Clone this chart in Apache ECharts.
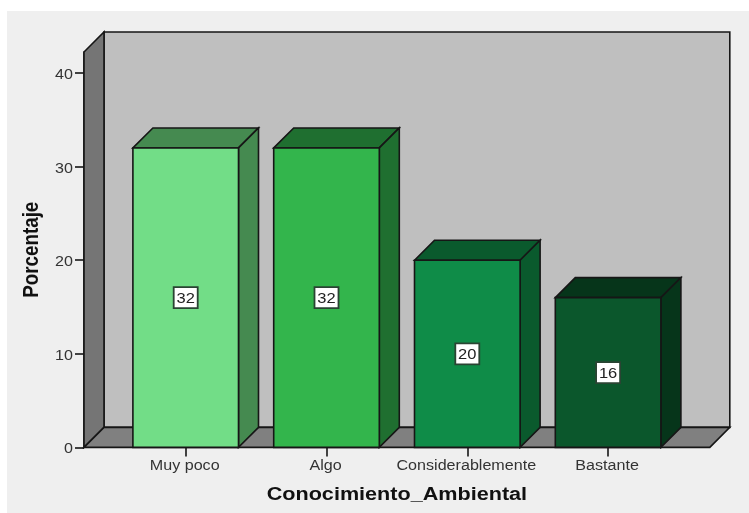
<!DOCTYPE html>
<html>
<head>
<meta charset="utf-8">
<style>html,body{margin:0;padding:0;background:#fff}#chart{width:749px;height:513px}</style>
<script src="https://cdn.jsdelivr.net/npm/echarts@6/dist/echarts.min.js"></script>
</head>
<body>
<div id="chart"></div>
<script>
const categories = ['Muy poco', 'Algo', 'Considerablemente', 'Bastante'];
const percentages = [32, 32, 20, 16];
const yTicks = [0, 10, 20, 30, 40];
const xTitle = 'Conocimiento_Ambiental';
const yTitle = 'Porcentaje';
const frontColors = ['#72DD87', '#33B54C', '#0F8C48', '#0B572C'];
const sideColors = ['#458A50', '#1F6F30', '#0A5A2D', '#06351A'];

const DEPTH = 20;          // oblique offset of the 3D box, px
const FRAME_PAD = 31.3;    // floor overhang beyond the first and last category bands, px
const INK = '#161616';
const WIDE = 1.15;         // horizontal widening of the axis text
const edge = { stroke: INK, lineWidth: 1.6, lineJoin: 'miter' };

function poly(points, fill) {
  return { type: 'polygon', shape: { points }, style: { fill, ...edge } };
}

function label(text, x, y, font, fill, align, extra) {
  return {
    type: 'text', x, y, scaleX: WIDE, ...extra,
    style: { text, x: 0, y: 0, align, verticalAlign: 'middle', font, fill }
  };
}

// Back wall, side wall, floor and the axis texts around the 3D frame
function renderFrame(params, api) {
  const c = params.coordSys;
  const l = c.x - FRAME_PAD, r = c.x + c.width + FRAME_PAD, t = c.y, b = c.y + c.height;
  const children = [
    poly([[l + DEPTH, t - DEPTH], [r + DEPTH, t - DEPTH], [r + DEPTH, b - DEPTH], [l + DEPTH, b - DEPTH]], '#BFBFBF'),
    poly([[l, t], [l + DEPTH, t - DEPTH], [l + DEPTH, b - DEPTH], [l, b]], '#757575'),
    poly([[l, b], [l + DEPTH, b - DEPTH], [r + DEPTH, b - DEPTH], [r, b]], '#808080')
  ];
  yTicks.forEach(v => {
    const y = api.coord([0, v])[1];
    children.push(label(String(v), l - 11, y + 2, '14px "Liberation Sans"', '#333', 'right'));
  });
  categories.forEach((name, i) => {
    const x = api.coord([i, 0])[0];
    children.push(label(name, x - 1, b + 19, '14px "Liberation Sans"', '#333', 'center'));
  });
  children.push(label(xTitle, c.x + c.width / 2, b + 48, 'bold 18px "Liberation Sans"', '#111', 'center', { scaleX: 1.2 }));
  children.push(label(yTitle, l - 52.5, t + c.height / 2, 'bold 18.8px "Liberation Sans"', '#111', 'center',
    { scaleX: 1, scaleY: 1.2, rotation: Math.PI / 2 }));
  return { type: 'group', children };
}

// One extruded bar: top face, right-hand face, front face and the value box
function renderBar(params, api) {
  const i = api.value(0);
  const v = api.value(1);
  const [cx, top] = api.coord([i, v]);
  const [, base] = api.coord([i, 0]);
  const [, mid] = api.coord([i, v / 2]);
  const w = api.size([1, 0])[0] * 0.75;
  const l = cx - w / 2, r = cx + w / 2;
  return {
    type: 'group',
    children: [
      poly([[l, top], [l + DEPTH, top - DEPTH], [r + DEPTH, top - DEPTH], [r, top]], sideColors[i]),
      poly([[r, top], [r + DEPTH, top - DEPTH], [r + DEPTH, base - DEPTH], [r, base]], sideColors[i]),
      poly([[l, top], [r, top], [r, base], [l, base]], frontColors[i]),
      {
        type: 'rect',
        shape: { x: cx - 12, y: mid - 10.5, width: 24, height: 21 },
        style: { fill: '#fff', stroke: '#2a4433', lineWidth: 1.8 }
      },
      label(String(v), cx, mid + 1, '15px "Liberation Sans"', '#222', 'center', { scaleX: 1.1 })
    ]
  };
}

const chart = echarts.init(document.getElementById('chart'), null, { renderer: 'canvas' });
chart.setOption({
  animation: false,
  backgroundColor: '#fff',
  graphic: [{
    type: 'rect', z: -10, silent: true,
    shape: { x: 7, y: 11, width: 742, height: 502 },
    style: { fill: '#EFEFEF' }
  }],
  grid: { left: 115.3, top: 52, width: 563.2, height: 395.4 },
  xAxis: {
    type: 'category',
    data: categories,
    axisLine: { show: false },
    axisTick: { show: true, alignWithLabel: true, length: 9, lineStyle: { color: INK, width: 1.6 } },
    axisLabel: { show: false },
    z: 10
  },
  yAxis: {
    type: 'value',
    min: 0,
    max: 42.25,
    interval: 10,
    offset: 31.3,
    splitLine: { show: false },
    axisLine: { show: true, lineStyle: { color: INK, width: 1.6 } },
    axisTick: { show: true, length: 9, customValues: yTicks, lineStyle: { color: INK, width: 1.6 } },
    axisLabel: { show: false }
  },
  series: [
    {
      type: 'custom', clip: false, silent: true, z: 1,
      data: [[0, 0]],
      encode: { x: 0, y: 1 },
      renderItem: renderFrame
    },
    {
      type: 'custom', clip: false, silent: true, z: 2,
      data: percentages.map((v, i) => [i, v]),
      encode: { x: 0, y: 1 },
      renderItem: renderBar
    }
  ]
});
</script>
</body>
</html>
